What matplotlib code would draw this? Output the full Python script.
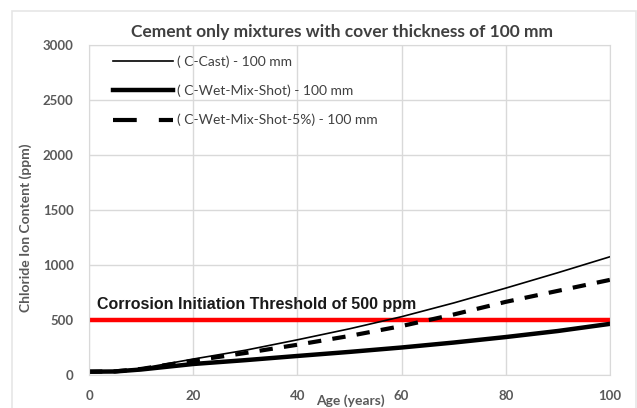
import matplotlib.pyplot as plt
from matplotlib.patches import Rectangle

# Chloride ion content over time for cement-only mixtures, 100 mm cover
age = [0, 5, 10, 20, 30, 40, 50, 60, 70, 80, 90, 100]
c_cast = [30, 35, 60, 145, 225, 320, 420, 530, 655, 790, 930, 1075]
c_wet_mix_shot = [30, 32, 50, 100, 135, 173, 210, 250, 295, 345, 400, 465]
c_wet_mix_shot_5 = [30, 33, 55, 130, 200, 275, 355, 445, 550, 665, 765, 865]
threshold = 500

age_ticks = [0, 20, 40, 60, 80, 100]
ppm_ticks = [0, 500, 1000, 1500, 2000, 2500, 3000]

grey = '#595959'
plt.rcParams['font.family'] = ['Lato', 'DejaVu Sans']

fig = plt.figure(figsize=(6.37, 4.08), dpi=100)
ax = fig.add_axes([89 / 637, 1 - 375 / 408, 521 / 637, 330 / 408])

# light chart-area border
fig.patches.append(Rectangle((12 / 637, -0.05), 624 / 637, 1 - 11 / 408 + 0.05,
                             transform=fig.transFigure, fill=False,
                             edgecolor='#e6e6e6', linewidth=1.2))

ax.plot(age, c_cast, color='black', linewidth=1.2, label='( C-Cast) - 100 mm')
ax.plot(age, c_wet_mix_shot, color='black', linewidth=3.2,
        label='( C-Wet-Mix-Shot) - 100 mm')
ax.plot(age, c_wet_mix_shot_5, color='black', linewidth=3.0,
        dashes=(3.2, 2.7), label='( C-Wet-Mix-Shot-5%) - 100 mm')
ax.axhline(threshold, color='#ff0000', linewidth=3.2, zorder=1)
ax.text(1.5, threshold + 70, 'Corrosion Initiation Threshold of 500 ppm',
        fontsize=11.5, fontweight='bold', color='#1a1a1a',
        family=['Liberation Sans'], va='bottom')

ax.set_xlim(0, 100)
ax.set_ylim(0, 3000)
ax.set_xticks(age_ticks)
ax.set_yticks(ppm_ticks)
ax.grid(True, color='#d9d9d9', linewidth=1.0)
ax.set_axisbelow(True)
for side in ax.spines:
    ax.spines[side].set_color('#d9d9d9')
ax.tick_params(length=0, labelsize=9.5, labelcolor=grey, pad=11)
for lbl in ax.get_xticklabels() + ax.get_yticklabels():
    lbl.set_fontweight('bold')

ax.set_title('Cement only mixtures with cover thickness of 100 mm',
             fontsize=12.5, fontweight='bold', color='#404040', pad=6, x=0.485)
fig.text(350 / 637, 1 - 401 / 408, 'Age (years)', fontsize=10,
         fontweight='bold', color=grey, ha='center', va='center')
fig.text(26 / 637, 1 - 228 / 408, 'Chloride Ion Content (ppm)', fontsize=10,
         fontweight='bold', color=grey, ha='center', va='center', rotation=90)

leg = ax.legend(loc='upper left', frameon=False, fontsize=10,
                handlelength=4.3, handletextpad=0.35, labelspacing=1.2,
                borderaxespad=0.0, bbox_to_anchor=(0.035, 0.985))
for txt in leg.get_texts():
    txt.set_color('#404040')
# longer dashes on the legend sample so it shows two dashes
leg.get_lines()[2].set_dashes((5.7, 5.3))

fig.savefig('out.png', dpi=100)
